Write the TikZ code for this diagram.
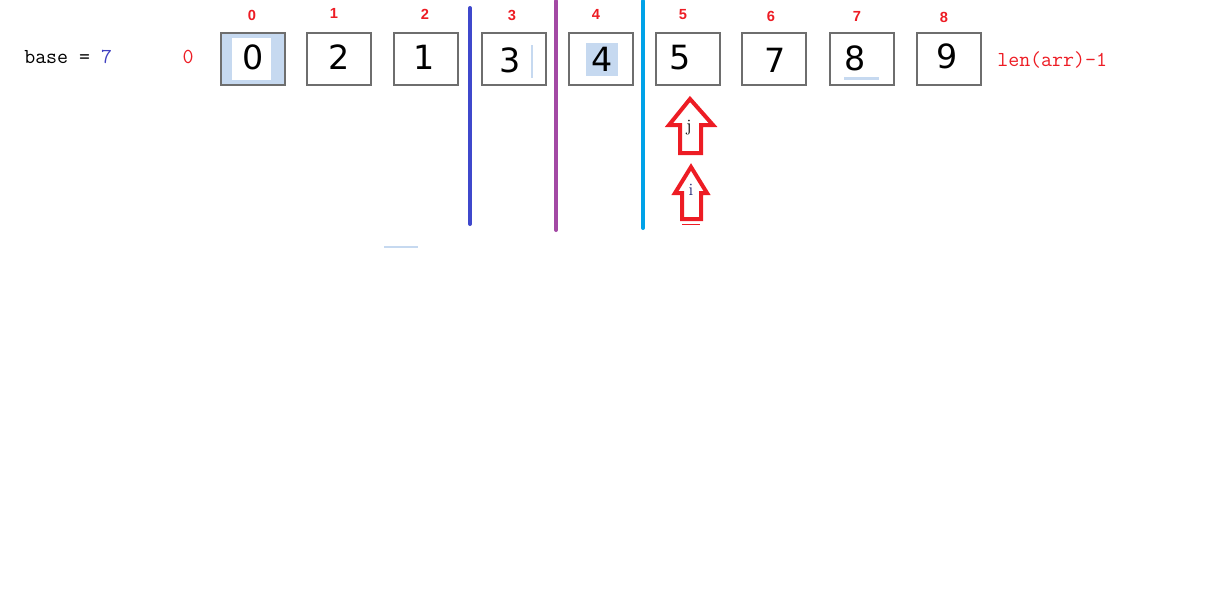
\documentclass[tikz,border=0pt]{standalone}
\usepackage{fontspec}
\newfontfamily\digitfont{DejaVu Sans}
\newfontfamily\idxfont{Liberation Sans}
\definecolor{cred}{HTML}{ED1C24}
\definecolor{cblue}{HTML}{3F48CC}
\definecolor{cpurple}{HTML}{A349A4}
\definecolor{ccyan}{HTML}{00A2E8}
\definecolor{chl}{HTML}{C6D9F0}
\definecolor{cborder}{HTML}{6E6E6E}
\definecolor{cbasenum}{HTML}{4040C0}
\tikzset{
  cell/.style={draw=cborder, line width=1.5pt, minimum width=48pt, minimum height=39pt, inner sep=0pt},
  digit/.style={font=\digitfont\fontsize{25}{25}\selectfont, inner sep=0pt},
  idx/.style={font=\idxfont\bfseries\fontsize{11}{11}\selectfont, text=cred, inner sep=0pt},
  code/.style={font=\ttfamily\fontsize{16}{16}\selectfont, inner sep=0pt},
  divider/.style={line width=3pt, line cap=round},
  bigarrow/.style={draw=cred, line width=3pt, line join=miter, fill=white},
  ptr/.style={font=\fontsize{13}{13}\selectfont, inner sep=0pt}
}
\begin{document}
\begin{tikzpicture}[x=0.75pt,y=-0.75pt]
\useasboundingbox (0,0) rectangle (1205,604);
% boxes
\node[cell, fill=chl] (b0) at (253,59) {};
\node[cell] (b1) at (339,59) {};
\node[cell] (b2) at (426,59) {};
\node[cell] (b3) at (514,59) {};
\node[cell] (b4) at (601,59) {};
\node[cell] (b5) at (687.5,59) {};
\node[cell] (b6) at (774,59) {};
\node[cell] (b7) at (861.5,59) {};
\node[cell] (b8) at (948.5,59) {};
% highlights
\fill[white] (232,38) rectangle (271,80);
\fill[chl] (586,43) rectangle (618,76);
\draw[chl, line width=1.2pt] (532,45) -- (532,78);
\fill[chl] (844,77) rectangle (879,80);
% digits
\node[digit] (d0) at (253,57) {0};
\node[digit] (d1) at (339,57) {2};
\node[digit] (d2) at (424,57) {1};
\node[digit] (d3) at (510,60) {3};
\node[digit] (d4) at (602,59) {4};
\node[digit] (d5) at (680,58) {5};
\node[digit] (d6) at (775,60) {7};
\node[digit] (d7) at (855,58) {8};
\node[digit] (d8) at (947,56) {9};
% index labels
\node[idx] (i0) at (252,15) {0};
\node[idx] (i1) at (334,13) {1};
\node[idx] (i2) at (425,14) {2};
\node[idx] (i3) at (512,15) {3};
\node[idx] (i4) at (596,14) {4};
\node[idx] (i5) at (683,15) {5};
\node[idx] (i6) at (771,16) {6};
\node[idx] (i7) at (857,16) {7};
\node[idx] (i8) at (944,17) {8};
% side texts
\node[code, anchor=west] (base) at (24,57) {base = \textcolor{cbasenum}{7}};
\node[code, text=cred] (zero) at (188,57) {0};
\node[code, text=cred, anchor=west] (len) at (997,60) {len(arr)-1};
% dividers
\draw[divider, cblue] (470,8) -- (470,224);
\draw[divider, cpurple] (556,1) -- (556,230);
\draw[divider, ccyan] (643,1) -- (643,228);
% pointer arrows
\draw[bigarrow] (690,99) -- (713,125) -- (701,125) -- (701,153) -- (680,153) -- (680,125) -- (669,125) -- cycle;
\node[ptr] (j) at (689,128) {j};
\draw[bigarrow] (691,167) -- (707,193) -- (701,193) -- (701,219) -- (682,219) -- (682,193) -- (675,193) -- cycle;
\node[ptr, text=cblue!60!black] (i) at (691,190) {i};
\draw[cred, line width=1pt] (682,224.5) -- (700,224.5);
% faint line
\draw[chl, line width=1.5pt] (384,247) -- (418,247);
\end{tikzpicture}
\end{document}
